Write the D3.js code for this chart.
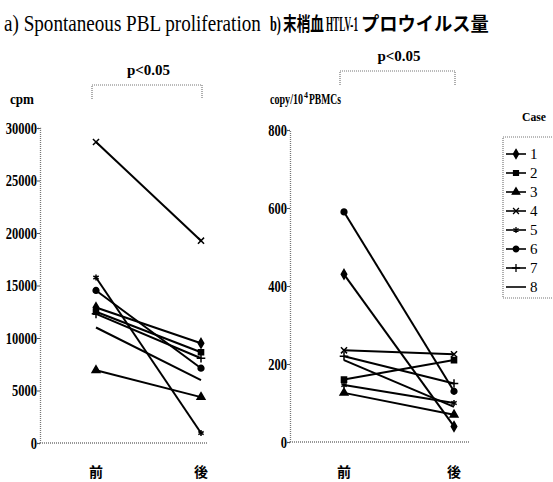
<!DOCTYPE html>
<html>
<head>
<meta charset="utf-8">
<script src="https://cdn.jsdelivr.net/npm/d3@7"></script>
<style>
body { margin: 0; background: #fff; }
text { font-family: "Liberation Serif", "Times New Roman", Tinos, "DejaVu Serif", serif; fill: #000; }
text.jp { font-family: "Noto Sans CJK JP", sans-serif; }
</style>
</head>
<body>
<div id="plot"></div>
<script>
var cases = ["1", "2", "3", "4", "5", "6", "7", "8"];
var timepoints = ["前", "後"];

// a) spontaneous PBL proliferation (cpm), pre / post
var pblPre  = [12900, 12500, 6930, 28670, 15760, 14525, 12300, 11000];
var pblPost = [9500, 8640, 4370, 19270, 950, 7120, 8070, 5980];
var pblTicks = [0, 5000, 10000, 15000, 20000, 25000, 30000];

// b) HTLV-1 proviral load (copy/10^4 PBMCs), pre / post
var pvlPre  = [430, 160, 126, 235, 146, 590, 220, 210];
var pvlPost = [40, 210, 70, 225, 100, 130, 150, 90];
var pvlTicks = [0, 200, 400, 600, 800];

var symbols = [d3.symbolDiamond, d3.symbolSquare, d3.symbolTriangle, d3.symbolTimes,
               d3.symbolAsterisk, d3.symbolCircle, d3.symbolPlus, null];

var svg = d3.select("#plot").append("svg")
    .attr("width", 553)
    .attr("height", 482);

// squeeze a text horizontally into a given width (the scan uses a narrow serif face)
function condensed(parent, str, x, y, size, width, opts)
{
    opts = opts || {};
    var t = parent.append("text")
        .attr("class", opts.jp ? "jp" : null)
        .attr("text-anchor", opts.anchor || "start")
        .style("font-size", size + "px")
        .style("font-weight", opts.bold ? "bold" : "normal")
        .text(str);
    var len = t.node().getComputedTextLength();
    var sx = Math.min(1, width / len);
    t.attr("transform", "translate(" + x + "," + y + ") scale(" + sx + ",1)");
    return t;
}

function drawPanel(opt)
{
    var y = d3.scaleLinear().domain([0, opt.max]).range([opt.bottom, opt.top]);
    var x = d3.scalePoint().domain(timepoints).range([opt.preX, opt.postX]);

    var g = svg.append("g");

    // y axis
    var yAxis = g.append("g")
        .attr("transform", "translate(" + opt.axisX + ",0)")
        .call(d3.axisLeft(y).tickValues(opt.ticks).tickSize(3).tickPadding(1).tickFormat(d3.format("d")));
    yAxis.select(".domain").attr("stroke", "#777").attr("stroke-width", 1.3).attr("stroke-dasharray", "1,1");
    yAxis.selectAll(".tick line").attr("stroke", "#555");
    yAxis.selectAll("text")
        .attr("font-family", null)
        .attr("font-size", null)
        .style("font-weight", "bold")
        .style("font-size", "16px")
        .attr("transform", "scale(0.78,1)")
        .attr("x", -3 / 0.78);

    // x axis line
    g.append("line")
        .attr("x1", opt.axisX).attr("x2", opt.axisEnd)
        .attr("y1", y(0)).attr("y2", y(0))
        .attr("stroke", "#777").attr("stroke-width", 1.3).attr("stroke-dasharray", "1,1");

    timepoints.forEach(function(t) {
        g.append("text")
            .attr("class", "jp")
            .attr("x", x(t)).attr("y", 477)
            .attr("text-anchor", "middle")
            .style("font-size", "14px")
            .style("font-weight", "bold")
            .text(t);
    });

    // case lines
    cases.forEach(function(c, i) {
        var pts = [[x("前"), y(opt.pre[i])], [x("後"), y(opt.post[i])]];
        g.append("path")
            .attr("d", d3.line()(pts))
            .attr("fill", "none")
            .attr("stroke", "#000")
            .attr("stroke-width", 2);
        if (symbols[i]) {
            pts.forEach(function(p) {
                g.append("path")
                    .attr("d", d3.symbol().type(symbols[i]).size(26)())
                    .attr("transform", "translate(" + p[0] + "," + p[1] + ")")
                    .attr("fill", "#000")
                    .attr("stroke", "#000")
                    .attr("stroke-width", 1.5);
            });
        }
    });

    // significance bracket
    g.append("path")
        .attr("d", "M" + (opt.preX - 4) + "," + (opt.brY + 14) + "V" + opt.brY + "H" + (opt.postX + 1) + "V" + (opt.brY + 14))
        .attr("fill", "none").attr("stroke", "#777").attr("stroke-width", 1.2).attr("stroke-dasharray", "1,1");
    condensed(g, "p<0.05", (opt.preX + opt.postX) / 2, opt.brY - 10, 15, 44, { bold: true, anchor: "middle" });

    return g;
}

drawPanel({ axisX: 40, axisEnd: 208, preX: 96, postX: 201, top: 128, bottom: 443,
            max: 30000, ticks: pblTicks, pre: pblPre, post: pblPost, brY: 85 });
drawPanel({ axisX: 290, axisEnd: 470, preX: 344, postX: 454, top: 130, bottom: 442,
            max: 800, ticks: pvlTicks, pre: pvlPre, post: pvlPost, brY: 71 });

// titles
condensed(svg, "a) Spontaneous PBL proliferation", 4, 31, 24, 257);

var titleParts = [
    { t: "b)", x: 270, w: 11, jp: false },
    { t: "末梢血", x: 283, w: 41, jp: true },
    { t: "HTLV-1", x: 326, w: 32, jp: false },
    { t: "プロウイルス量", x: 361, w: 128, jp: true }
];
titleParts.forEach(function(p) {
    condensed(svg, p.t, p.x, 31, p.jp ? 19 : 21, p.w, { bold: true, jp: p.jp });
});

condensed(svg, "cpm", 10, 104, 14, 24, { bold: true });

// copy/10^4 PBMCs unit label, superscript on its own
condensed(svg, "copy/10", 270, 104, 14, 33, { bold: true });
condensed(svg, "4", 304, 98, 9, 4, { bold: true });
condensed(svg, "PBMCs", 309, 104, 14, 32, { bold: true });

// legend
var legend = svg.append("g");
condensed(legend, "Case", 522, 121, 13, 24, { bold: true });
legend.append("path")
    .attr("d", "M560,137H503V298H560")
    .attr("fill", "none").attr("stroke", "#777").attr("stroke-width", 1.2).attr("stroke-dasharray", "1,1");

var ly = d3.scalePoint().domain(cases).range([154, 287]);
cases.forEach(function(c, i) {
    var yy = ly(c);
    legend.append("line")
        .attr("x1", 506).attr("x2", 526)
        .attr("y1", yy).attr("y2", yy)
        .attr("stroke", "#000").attr("stroke-width", 1.6);
    if (symbols[i]) {
        legend.append("path")
            .attr("d", d3.symbol().type(symbols[i]).size(24)())
            .attr("transform", "translate(516," + yy + ")")
            .attr("fill", "#000").attr("stroke", "#000").attr("stroke-width", 1.3);
    }
    legend.append("text")
        .attr("x", 530).attr("y", yy + 5)
        .style("font-size", "15px")
        .text(c);
});
</script>
</body>
</html>
